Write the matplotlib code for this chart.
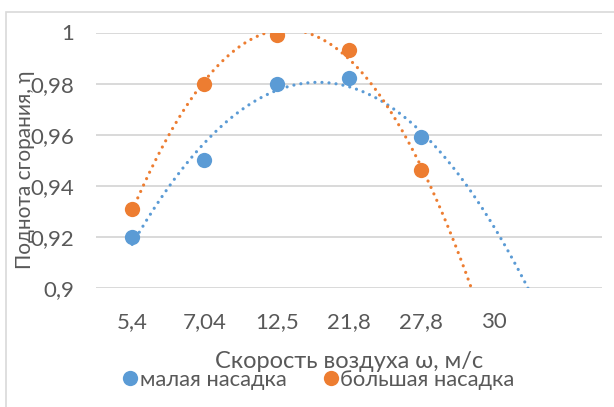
import matplotlib
matplotlib.use('Agg')
import matplotlib.pyplot as plt
import numpy as np
from matplotlib.patches import Rectangle
from matplotlib.lines import Line2D

plt.rcParams['font.family'] = ['Lato', 'DejaVu Sans']

# category labels on the horizontal axis (7th slot is empty)
categories = ['5,4', '7,04', '12,5', '21,8', '27,8', '30', '']
# values for first five categories
small_nozzle = [0.92, 0.95, 0.98, 0.982, 0.959]
big_nozzle = [0.931, 0.98, 0.999, 0.993, 0.946]
yticks = [0.9, 0.92, 0.94, 0.96, 0.98, 1.0]

BLUE = '#5B9BD5'
ORANGE = '#ED7D31'
GRAY = '#595959'
GRID = '#D9D9D9'

W, H = 614, 407
fig = plt.figure(figsize=(W / 100, H / 100), dpi=100)

# chart area border
fig.patches.append(Rectangle((6 / W, -0.1), 1.2, 1 - 12 / H + 0.1,
                             transform=fig.transFigure, fill=False,
                             edgecolor=GRID, lw=1.2))

ax = fig.add_axes([96 / W, 1 - 288 / H, (602 - 96) / W, (288 - 32.5) / H])
ax.set_xlim(0.5, len(categories) + 0.5)
ax.set_ylim(0.9, 1.0)

xs = np.arange(1, len(small_nozzle) + 1)
xfit = np.linspace(1, len(categories), 300)
for vals, col, lab in [(small_nozzle, BLUE, 'малая насадка'),
                       (big_nozzle, ORANGE, 'большая насадка')]:
    # polynomial (2nd order) trend line like Excel
    p = np.polyfit(xs, vals, 2)
    ax.plot(xfit, np.polyval(p, xfit), color=col, lw=2.3,
            linestyle=(0, (0.01, 2.2)), dash_capstyle='round', zorder=3)
    ax.plot(xs, vals, 'o', color=col, ms=11, mec='none', zorder=4, label=lab)

ax.set_yticks(yticks)
ax.set_yticklabels([('%g' % v).replace('.', ',') for v in yticks])
ax.set_xticks(np.arange(1, len(categories) + 1))
ax.set_xticklabels(categories)
ax.grid(axis='y', color=GRID, lw=1.4)
ax.set_axisbelow(True)
for s in ax.spines.values():
    s.set_visible(False)
ax.tick_params(axis='both', length=0, colors=GRAY, labelsize=16)
ax.tick_params(axis='x', pad=17)
ax.tick_params(axis='y', pad=16)

fig.text(25 / W, 1 - 170 / H, 'Поднота сгорания, η', rotation=90,
         ha='center', va='center', color=GRAY, fontsize=15)
fig.text(349 / W, 1 - 362 / H, 'Скорость воздуха ω, м/с',
         ha='center', va='center', color=GRAY, fontsize=17)

handles = [Line2D([], [], marker='o', ls='none', color=BLUE, ms=11, mec='none'),
           Line2D([], [], marker='o', ls='none', color=ORANGE, ms=11, mec='none')]
fig.legend(handles, ['малая насадка', 'большая насадка'], ncol=2,
           loc='center', bbox_to_anchor=(318 / W, 1 - 380 / H), frameon=False,
           fontsize=15.8, labelcolor=GRAY, handletextpad=0.05,
           columnspacing=1.6, handlelength=0.8, borderpad=0)

fig.savefig('out.png', dpi=100)
